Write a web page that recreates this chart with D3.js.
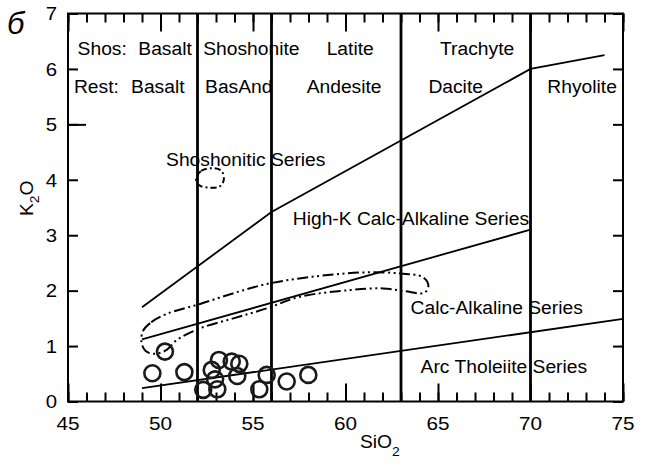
<!DOCTYPE html>
<html lang="en">
<head>
<meta charset="UTF-8">
<title>K2O vs SiO2</title>
<script src="https://d3js.org/d3.v7.min.js"></script>
<style>
  body { margin: 0; padding: 0; background: #fff; }
  svg { display: block; font-family: "Liberation Sans", Arial, sans-serif; }
  .tick line { stroke: #000; stroke-width: 2; }
  .domain { display: none; }
</style>
</head>
<body>
<svg width="652" height="463"></svg>
<script>
// samples
const sio2 = [49.56, 50.24, 51.29, 52.31, 52.77, 53.16, 52.95, 53.07, 53.85, 54.26, 54.15, 55.34, 55.74, 56.82, 57.99];
const k2o  = [0.51, 0.90, 0.53, 0.21, 0.57, 0.75, 0.40, 0.22, 0.72, 0.68, 0.46, 0.22, 0.48, 0.36, 0.48];

// series boundaries
const shoshoniticLine = [[49, 1.7], [56, 3.42], [70, 6.0], [74, 6.25]];
const highKLine = [[49, 1.12], [70, 3.1]];
const tholeiiteLine = [[49, 0.24], [75, 1.49]];
const rockDividers = [52, 56, 63, 70];

// outlined fields
const fieldOutline = [
  [49.05, 1.27], [49.5, 1.43], [50.33, 1.58], [52.14, 1.76], [54, 1.96], [55.74, 2.12],
  [57.5, 2.22], [59.34, 2.29], [61.15, 2.33], [62.95, 2.31], [64.2, 2.24], [64.48, 2.08],
  [64.25, 1.96], [63.2, 1.99], [62.04, 2.04], [60.24, 2.01], [57.54, 1.89], [55.74, 1.68],
  [53.94, 1.5], [52.14, 1.32], [50.88, 1.11], [50.33, 0.93], [49.7, 0.86], [49.2, 0.91], [48.98, 1.06]
];
const smallField = [
  [51.92, 4.02], [52.2, 4.16], [52.8, 4.21], [53.3, 4.16], [53.42, 4.0],
  [53.2, 3.88], [52.6, 3.86], [52.1, 3.9]
];

// ticks
const xMajor = [45, 50, 55, 60, 65, 70, 75];
const yLabels = [0, 1, 2, 3, 4, 5, 6, 7];

// text in the plot: [SiO2, K2O, text]
const rockNames = [
  [45.52, 6.25, "Shos:"], [48.8, 6.25, "Basalt"], [52.31, 6.25, "Shoshonite"],
  [58.98, 6.25, "Latite"], [65.11, 6.25, "Trachyte"],
  [45.32, 5.56, "Rest:"], [48.41, 5.56, "Basalt"], [52.41, 5.56, "BasAnd"],
  [57.9, 5.56, "Andesite"], [64.48, 5.56, "Dacite"], [70.91, 5.56, "Rhyolite"]
];
const seriesNames = [
  [50.3, 4.25, "Shoshonitic Series"],
  [57.15, 3.18, "High-K Calc-Alkaline Series"],
  [63.52, 1.57, "Calc-Alkaline Series"],
  [64.06, 0.51, "Arc Tholeiite Series"]
];

const svg = d3.select("svg");
const x = d3.scaleLinear().domain([45, 75]).range([68, 623]);
const y = d3.scaleLinear().domain([0, 7]).range([401.5, 13.5]);

function label(px, py, txt, size, anchor, sx) {
  return svg.append("text")
    .attr("transform", `translate(${px},${py}) scale(${sx},1)`)
    .attr("font-size", size)
    .attr("text-anchor", anchor || "start")
    .attr("fill", "#000")
    .text(txt);
}

// inner ticks
const minorX = d3.range(45, 76);
svg.append("g").attr("transform", `translate(0,${y(0)})`)
  .call(d3.axisBottom(x).tickValues(minorX).tickSize(-9).tickFormat(""));
svg.append("g").attr("transform", `translate(0,${y(0)})`)
  .call(d3.axisBottom(x).tickValues(xMajor).tickSize(-18).tickFormat(""));
svg.append("g").attr("transform", `translate(0,${y(7)})`)
  .call(d3.axisTop(x).tickValues(minorX).tickSize(-9).tickFormat(""));
svg.append("g").attr("transform", `translate(0,${y(7)})`)
  .call(d3.axisTop(x).tickValues(xMajor).tickSize(-18).tickFormat(""));
svg.append("g").attr("transform", `translate(${x(45)},0)`)
  .call(d3.axisLeft(y).tickValues(yLabels).tickSize(-10).tickFormat(""));
svg.append("g").attr("transform", `translate(${x(45)},0)`)
  .call(d3.axisLeft(y).tickValues([5]).tickSize(-18).tickFormat(""));
svg.append("g").attr("transform", `translate(${x(75)},0)`)
  .call(d3.axisRight(y).tickValues(yLabels).tickSize(-10).tickFormat(""));

// frame
svg.append("rect")
  .attr("x", x(45)).attr("y", y(7))
  .attr("width", x(75) - x(45)).attr("height", y(0) - y(7))
  .attr("fill", "none").attr("stroke", "#000").attr("stroke-width", 2);

// rock type dividers
svg.selectAll("line.divider")
  .data(rockDividers)
  .enter().append("line")
  .attr("class", "divider")
  .attr("x1", d => x(d)).attr("x2", d => x(d))
  .attr("y1", y(0)).attr("y2", y(7))
  .attr("stroke", "#000").attr("stroke-width", 2.8);

const line = d3.line().x(d => x(d[0])).y(d => y(d[1]));
[shoshoniticLine, highKLine, tholeiiteLine].forEach(function(pts) {
  svg.append("path")
    .attr("d", line(pts))
    .attr("fill", "none").attr("stroke", "#000").attr("stroke-width", 1.8);
});

const closed = d3.line().x(d => x(d[0])).y(d => y(d[1])).curve(d3.curveCatmullRomClosed.alpha(0.5));
svg.append("path")
  .attr("d", closed(fieldOutline))
  .attr("fill", "none").attr("stroke", "#000").attr("stroke-width", 2)
  .attr("stroke-dasharray", "11,3.5,2,3.5,2,3.5");
svg.append("path")
  .attr("d", closed(smallField))
  .attr("fill", "none").attr("stroke", "#000").attr("stroke-width", 2)
  .attr("stroke-dasharray", "6,3,2,3");

// samples
svg.selectAll("circle.sample")
  .data(sio2)
  .enter().append("circle")
  .attr("class", "sample")
  .attr("cx", d => x(d))
  .attr("cy", (d, i) => y(k2o[i]))
  .attr("r", 8)
  .attr("fill", "none").attr("stroke", "#1a1a1a").attr("stroke-width", 2.6);

// texts
rockNames.forEach(d => label(x(d[0]), y(d[1]), d[2], 18, "start", 1.07));
seriesNames.forEach(d => label(x(d[0]), y(d[1]), d[2], 18, "start", 1.07));

xMajor.forEach(v => label(x(v), 430, v, 18.5, "middle", 1.12));
yLabels.forEach(v => label(57, y(v) + 6.8, v, 18.5, "end", 1.1));

// axis titles
const xt = svg.append("text")
  .attr("transform", "translate(360,448) scale(1.07,1)")
  .attr("font-size", 18);
xt.append("tspan").text("SiO");
xt.append("tspan").attr("font-size", 13).attr("dy", 8).text("2");

const yt = svg.append("text")
  .attr("transform", "translate(33,216) rotate(-90) scale(1.07,1)")
  .attr("font-size", 18);
yt.append("tspan").text("K");
yt.append("tspan").attr("font-size", 13).attr("dy", 6).text("2");
yt.append("tspan").attr("dy", -6).text("O");

svg.append("text")
  .attr("x", 7).attr("y", 34)
  .attr("font-size", 31).attr("font-style", "italic")
  .text("б");
</script>
</body>
</html>
